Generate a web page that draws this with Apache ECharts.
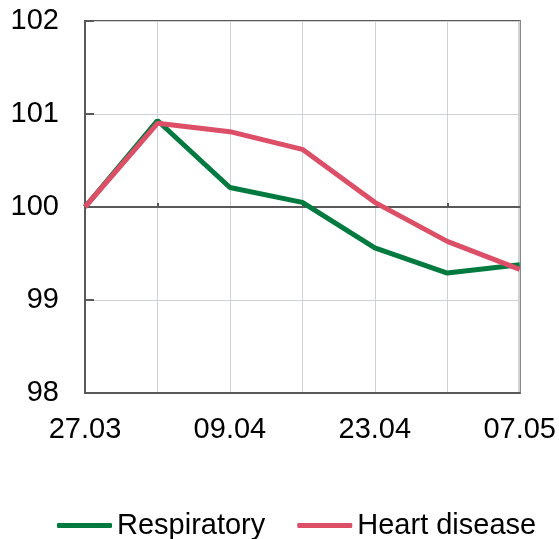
<!DOCTYPE html>
<html>
<head>
<meta charset="utf-8">
<script src="https://cdn.jsdelivr.net/npm/echarts@6/dist/echarts.min.js"></script>
<style>
html,body{margin:0;padding:0;background:#fff;}
#chart{width:559px;height:539px;}
</style>
</head>
<body>
<div id="chart"></div>
<script>
const categories = ['27.03', '02.04', '09.04', '16.04', '23.04', '30.04', '07.05'];
const respiratory = [100, 100.93, 100.21, 100.05, 99.56, 99.29, 99.38];
const heartDisease = [100, 100.90, 100.81, 100.62, 100.05, 99.63, 99.33];
const yTicks = [98, 99, 100, 101, 102];
const baseValue = 100;
const seriesNames = ['Respiratory', 'Heart disease'];
const seriesColors = ['#007A3F', '#DC4F66'];

const chart = echarts.init(document.getElementById('chart'));
const font = 'Liberation Sans, Arial, sans-serif';
const yMin = yTicks[0], yMax = yTicks[yTicks.length - 1];
chart.setOption({
  animation: false,
  grid: { left: 85, right: 38, top: 21, bottom: 146, show: true, borderColor: '#595959', borderWidth: 2, backgroundColor: 'transparent' },
  legend: {
    bottom: -6,
    left: 52,
    itemWidth: 55,
    itemHeight: 5,
    itemGap: 32,
    icon: 'roundRect',
    textStyle: { fontFamily: font, fontSize: 29, color: '#000' },
    data: seriesNames
  },
  xAxis: [{
    type: 'category',
    data: categories,
    boundaryGap: false,
    position: 'bottom',
    axisLine: { show: true, onZero: false, lineStyle: { color: '#595959', width: 2 } },
    axisTick: { show: false },
    axisLabel: { interval: 1, fontFamily: font, fontSize: 29, color: '#000', margin: 22 },
    splitLine: { show: true, interval: 0, lineStyle: { color: '#D0D3D6', width: 1 } }
  }, {
    type: 'category',
    data: categories,
    boundaryGap: false,
    position: 'bottom',
    axisLine: { show: true, onZero: true, onZeroAxisIndex: 1, lineStyle: { color: '#595959', width: 2 } },
    axisTick: { show: true, inside: true, length: 4, interval: function (i) { return i % 2 === 1; }, lineStyle: { color: '#595959', width: 2 } },
    axisLabel: { show: false },
    splitLine: { show: false },
    z: 1
  }],
  yAxis: [{
    type: 'value',
    min: yMin,
    max: yMax,
    interval: 1,
    axisLine: { show: true, lineStyle: { color: '#595959', width: 2 } },
    axisTick: { show: true, inside: true, length: 9, lineStyle: { color: '#595959', width: 2 } },
    axisLabel: { fontFamily: font, fontSize: 29, color: '#000', margin: 26 },
    splitLine: { show: true, lineStyle: { color: '#D0D3D6', width: 1 } }
  }, {
    type: 'value',
    min: yMin - baseValue,
    max: yMax - baseValue,
    interval: 1,
    position: 'right',
    axisLine: { show: false },
    axisTick: { show: false },
    axisLabel: { show: false },
    splitLine: { show: false }
  }],
  series: [
    {
      name: seriesNames[0],
      type: 'line',
      data: respiratory,
      symbol: 'none',
      color: seriesColors[0],
      itemStyle: { color: seriesColors[0] },
      lineStyle: { width: 5, color: seriesColors[0] },
      z: 3
    },
    {
      name: seriesNames[1],
      type: 'line',
      data: heartDisease,
      symbol: 'none',
      color: seriesColors[1],
      itemStyle: { color: seriesColors[1] },
      lineStyle: { width: 5, color: seriesColors[1] },
      z: 4
    }
  ]
});
</script>
</body>
</html>
